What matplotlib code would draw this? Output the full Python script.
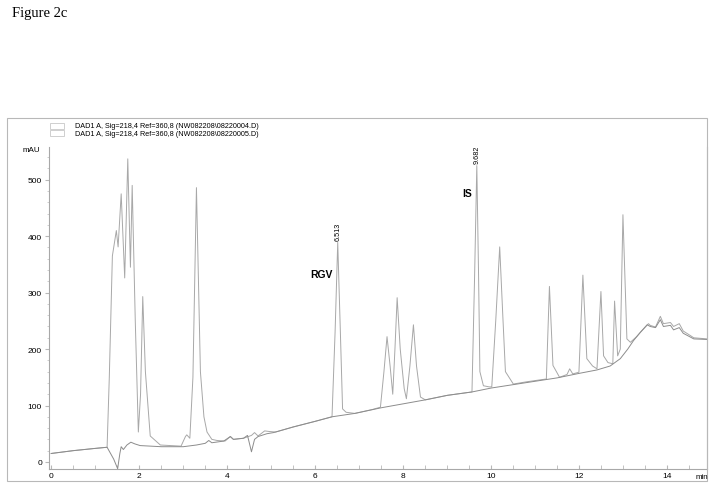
import numpy as np
import matplotlib
matplotlib.use("Agg")
import matplotlib.pyplot as plt
from matplotlib.patches import Rectangle
from matplotlib.ticker import MultipleLocator

plt.rcParams['font.family'] = ['Liberation Sans', 'DejaVu Sans']

# sample trace (time in min, signal in mAU)
t_sample = [0.0, 0.5, 1.0, 1.27, 1.32, 1.39, 1.48, 1.52, 1.59, 1.67, 1.74, 1.80, 1.84,
            1.91, 1.98, 2.03, 2.08, 2.14, 2.25, 2.48, 2.95, 3.05, 3.08, 3.15, 3.22,
            3.30, 3.39, 3.47, 3.54, 3.65, 3.77, 3.95, 4.07, 4.14, 4.37, 4.55, 4.62,
            4.70, 4.85, 4.95, 5.10, 5.50, 6.00, 6.38, 6.45, 6.51, 6.57, 6.62, 6.70,
            6.90, 7.30, 7.48, 7.56, 7.63, 7.70, 7.76, 7.81, 7.86, 7.93, 8.02, 8.07,
            8.15, 8.23, 8.30, 8.39, 8.50, 9.00, 9.56, 9.62, 9.67, 9.71, 9.74, 9.82,
            9.95, 10.01, 10.10, 10.19, 10.26, 10.32, 10.50, 10.80, 11.25, 11.32,
            11.40, 11.55, 11.72, 11.78, 11.85, 11.99, 12.08, 12.17, 12.30, 12.40,
            12.49, 12.55, 12.65, 12.76, 12.80, 12.87, 12.93, 12.99, 13.08, 13.16,
            13.30, 13.39, 13.57, 13.61, 13.73, 13.84, 13.91, 14.07, 14.14, 14.27,
            14.36, 14.60, 14.90]
v_sample = [15, 20, 24, 26, 150, 365, 410, 381, 475, 326, 537, 345, 490,
            250, 53, 120, 293, 160, 46, 30, 28, 45, 48, 42, 150,
            486, 160, 80, 53, 40, 38, 37, 45, 40, 42, 47, 52,
            46, 55, 54, 53, 62, 72, 80, 230, 389, 230, 94, 88,
            86, 93, 97, 160, 222, 170, 120, 200, 291, 200, 130, 112,
            170, 243, 170, 115, 110, 118, 124, 330, 525, 330, 160, 135,
            133, 133, 250, 381, 260, 160, 138, 142, 147, 311,
            171, 150, 155, 165, 156, 159, 331, 183, 170, 165,
            302, 188, 176, 174, 285, 188, 200, 438, 218, 212,
            222, 230, 245, 242, 239, 258, 245, 247, 240, 245,
            232, 220, 218]

# blank trace
t_blank = [0.0, 0.5, 1.0, 1.27, 1.32, 1.42, 1.51, 1.56, 1.59, 1.64, 1.72, 1.81, 1.90,
           2.02, 2.50, 3.00, 3.30, 3.50, 3.58, 3.65, 3.92, 4.07, 4.14, 4.37, 4.46,
           4.55, 4.62, 4.70, 4.90, 5.05, 5.50, 6.00, 6.38, 6.90, 7.50, 8.00, 8.50,
           9.00, 9.56, 10.00, 10.50, 11.00, 11.50, 12.00, 12.40, 12.70, 12.93,
           13.10, 13.23, 13.39, 13.54, 13.61, 13.73, 13.84, 13.91, 14.07, 14.14,
           14.27, 14.36, 14.60, 14.90]
v_blank = [15, 20, 24, 26, 19, 5, -12, 15, 27, 22, 30, 35, 32,
           29, 27, 27, 30, 33, 38, 34, 37, 45, 40, 42, 47,
           18, 40, 45, 50, 52, 62, 72, 80, 86, 96, 103, 110,
           118, 124, 131, 137, 143, 149, 157, 163, 170, 183,
           200, 215, 230, 243, 240, 238, 252, 240, 242, 234,
           238, 228, 218, 217]

peak_labels = [(6.51, 389, "6.513"), (9.67, 525, "9.682")]
legend_lines = ["DAD1 A, Sig=218,4 Ref=360,8 (NW082208\\08220004.D)",
                "DAD1 A, Sig=218,4 Ref=360,8 (NW082208\\08220005.D)"]

W, H = 714, 489
fig = plt.figure(figsize=(W / 100, H / 100), dpi=100)

def fx(px):
    return px / W

def fy(py):
    return 1 - py / H

ax = fig.add_axes([fx(49), fy(470), fx(707) - fx(49), fy(148) - fy(470)])
ax.plot(t_sample, v_sample, color='#a8a8a8', lw=0.7)
ax.plot(t_blank, v_blank, color='#8c8c8c', lw=0.7)

ax.set_xlim(-0.05, 14.9)
ax.set_ylim(-12.5, 558)
ax.spines['top'].set_visible(False)
for s in ax.spines.values():
    s.set_color('#a8a8a8')
    s.set_linewidth(0.8)

ax.xaxis.set_major_locator(MultipleLocator(2))
ax.xaxis.set_minor_locator(MultipleLocator(0.5))
ax.yaxis.set_major_locator(MultipleLocator(100))
ax.yaxis.set_minor_locator(MultipleLocator(20))
ax.tick_params(axis='x', which='both', direction='in', length=3, color='#b8b8b8',
               labelsize=6, pad=2)
ax.tick_params(axis='y', which='major', direction='out', length=3, color='#b8b8b8',
               labelsize=6, pad=2)
ax.tick_params(axis='y', which='minor', direction='out', length=1.5, color='#c8c8c8')
ax.tick_params(axis='y', right=False)

# peak annotations
for t, v, s in peak_labels:
    ax.text(t, v + 4, s, rotation=90, ha='center', va='bottom', fontsize=5.2)
ax.text(6.13, 333, "RGV", ha='center', va='center', fontsize=7.5, fontweight='bold')
ax.text(9.45, 477, "IS", ha='center', va='center', fontsize=7.5, fontweight='bold')

fig.text(fx(40), fy(150), "mAU", ha='right', va='center', fontsize=5.8)
fig.text(fx(702), fy(478), "min", ha='center', va='center', fontsize=5.8)

# outer frame
fig.patches.append(Rectangle((fx(7), fy(482)), fx(707) - fx(7), fy(119) - fy(482),
                             transform=fig.transFigure, fill=False,
                             edgecolor='#b8b8b8', lw=0.8))

# legend boxes
for i, txt in enumerate(legend_lines):
    y0 = 124 + 7 * i
    fig.patches.append(Rectangle((fx(50), fy(y0 + 6)), fx(14), 6 / H,
                                 transform=fig.transFigure, fill=False,
                                 edgecolor='#c8c8c8', lw=0.6))
    fig.text(fx(75), fy(y0 + 3), txt, ha='left', va='center', fontsize=5.2)

fig.text(fx(12), fy(13), "Figure 2c", ha='left', va='center', fontsize=10.5,
         family='Liberation Serif')

fig.savefig("out.png", dpi=100)
